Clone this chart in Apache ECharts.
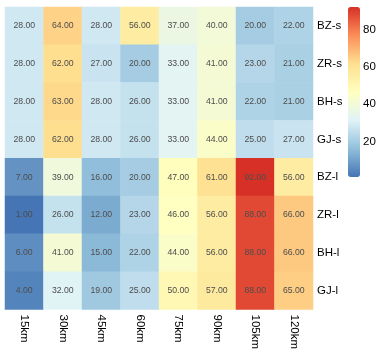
<!DOCTYPE html>
<html>
<head>
<meta charset="utf-8">
<script src="https://cdn.jsdelivr.net/npm/echarts@6/dist/echarts.min.js"></script>
<style>
  html, body { margin: 0; padding: 0; background: #fff; }
  #chart { width: 388px; height: 352px; }
</style>
</head>
<body>
<div id="chart"></div>
<script>
// columns (distance) and rows (sample)
var distances = ["15km", "30km", "45km", "60km", "75km", "90km", "105km", "120km"];
var samples = ["BZ-s", "ZR-s", "BH-s", "GJ-s", "BZ-l", "ZR-l", "BH-l", "GJ-l"];

var BZs = [28, 64, 28, 56, 37, 40, 20, 22];
var ZRs = [28, 62, 27, 20, 33, 41, 23, 21];
var BHs = [28, 63, 28, 26, 33, 41, 22, 21];
var GJs = [28, 62, 28, 26, 33, 44, 25, 27];
var BZl = [7, 39, 16, 20, 47, 61, 92, 56];
var ZRl = [1, 26, 12, 23, 46, 56, 88, 66];
var BHl = [6, 41, 15, 22, 44, 56, 88, 66];
var GJl = [4, 32, 19, 25, 50, 57, 88, 65];

var legendTicks = [20, 40, 60, 80];

var rows = [BZs, ZRs, BHs, GJs, BZl, ZRl, BHl, GJl];
var cells = [];
rows.forEach(function (row, r) {
  row.forEach(function (v, c) {
    cells.push([c, r, v]);
  });
});
var vmin = Math.min.apply(null, cells.map(function (d) { return d[2]; }));
var vmax = Math.max.apply(null, cells.map(function (d) { return d[2]; }));

var font = "Liberation Sans, Arial, sans-serif";
var chart = echarts.init(document.getElementById("chart"));
var option = {
  animation: false,
  grid: [
    { left: 5, top: 7, width: 308, height: 305 },
    { left: 348, top: 7, width: 12, height: 170 }
  ],
  xAxis: [
    {
      type: "category",
      data: distances,
      gridIndex: 0,
      axisLine: { show: false },
      axisTick: { show: false },
      splitLine: { show: false },
      axisLabel: {
        rotate: -90,
        margin: 5,
        fontSize: 11.5,
        fontFamily: font,
        color: "#000"
      }
    },
    { type: "value", gridIndex: 1, show: false, min: 0, max: 1 }
  ],
  yAxis: [
    {
      type: "category",
      data: samples,
      gridIndex: 0,
      inverse: true,
      position: "right",
      axisLine: { show: false },
      axisTick: { show: false },
      splitLine: { show: false },
      axisLabel: {
        margin: 4,
        fontSize: 11.5,
        fontFamily: font,
        color: "#000"
      }
    },
    {
      type: "value",
      gridIndex: 1,
      position: "right",
      min: vmin,
      max: vmax,
      axisLine: { show: false },
      axisTick: { show: false },
      splitLine: { show: false },
      axisLabel: {
        customValues: legendTicks,
        margin: 3,
        fontSize: 11.5,
        fontFamily: font,
        color: "#000"
      }
    }
  ],
  visualMap: {
    type: "continuous",
    min: vmin,
    max: vmax,
    seriesIndex: 0,
    calculable: false,
    orient: "vertical",
    left: 348,
    top: 7,
    padding: 0,
    itemWidth: 12,
    itemHeight: 170,
    text: null,
    showLabel: false,
    inRange: {
      color: ["#4575B4", "#91BFDB", "#E0F3F8", "#FFFFBF", "#FEE090", "#FC8D59", "#D73027"]
    }
  },
  series: [
    {
      type: "heatmap",
      xAxisIndex: 0,
      yAxisIndex: 0,
      data: cells,
      label: {
        show: true,
        fontSize: 8.7,
        fontFamily: font,
        color: "#4d4d4d",
        formatter: function (p) { return p.value[2].toFixed(2); }
      },
      emphasis: { disabled: true }
    },
    {
      type: "scatter",
      xAxisIndex: 1,
      yAxisIndex: 1,
      data: [],
      silent: true
    }
  ]
};
chart.setOption(option);
</script>
</body>
</html>
